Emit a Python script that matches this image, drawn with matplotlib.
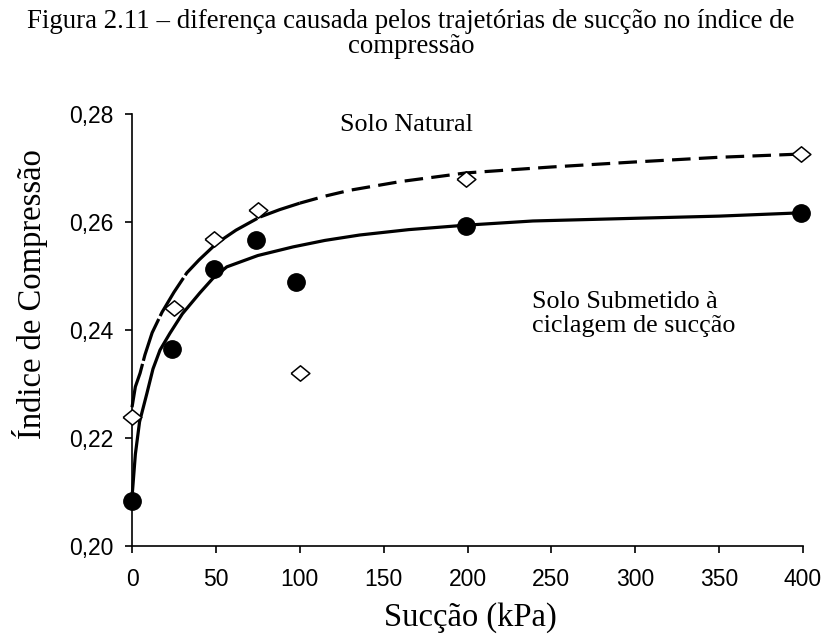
import matplotlib
matplotlib.use("Agg")
import matplotlib.pyplot as plt

# Ensaios de compressão: índice de compressão versus sucção aplicada
succao_natural = [0, 25, 49, 75, 100, 199, 399]
cc_natural = [0.2239, 0.2441, 0.2569, 0.2622, 0.2320, 0.2680, 0.2726]

succao_ciclado = [0, 24, 49, 74, 98, 199, 399]
cc_ciclado = [0.2083, 0.2365, 0.2513, 0.2567, 0.2489, 0.2593, 0.2617]

# Curvas de tendência traçadas sobre os ensaios
tend_natural_x = [0, 2, 4.8, 7.7, 12, 17.9, 25, 32.7, 40, 50.6, 62, 76, 88, 100,
                  115, 130, 160, 199, 250, 298, 350, 399]
tend_natural_y = [0.2257, 0.2295, 0.2320, 0.2354, 0.2395, 0.2433, 0.2470, 0.2506,
                  0.2530, 0.2561, 0.2585, 0.2609, 0.2623, 0.2635, 0.2648, 0.2659,
                  0.2675, 0.2691, 0.2702, 0.2711, 0.2720, 0.2726]
tend_ciclado_x = [0, 2, 4.5, 8.9, 12.5, 16.7, 22.6, 30, 40.5, 48, 56.5, 75, 96,
                  115, 135.7, 165, 198, 239, 300, 350, 398]
tend_ciclado_y = [0.2090, 0.2170, 0.2230, 0.2283, 0.2328, 0.2363, 0.2394, 0.2430,
                  0.2469, 0.2495, 0.2517, 0.2538, 0.2554, 0.2566, 0.2576, 0.2586,
                  0.2594, 0.2602, 0.2607, 0.2611, 0.2617]

serif = "Liberation Serif"
sans = "Liberation Sans"

fig = plt.figure(figsize=(8.22, 6.37), dpi=100)
ax = fig.add_axes([0.1606, 0.1429, 0.8163, 0.678])

# trecho inicial da curva natural quase contínuo, depois tracejado
corte = tend_natural_x.index(100) + 1
ax.plot(tend_natural_x[:corte], tend_natural_y[:corte], color="black", lw=2.3,
        dashes=(14, 1.0), solid_capstyle="butt", zorder=2)
ax.plot(tend_natural_x[corte - 1:], tend_natural_y[corte - 1:], color="black",
        lw=2.3, dashes=(5.8, 2.6), zorder=2)
ax.plot(tend_ciclado_x, tend_ciclado_y, color="black", lw=2.3, zorder=2)

losango = [(-1, 0), (0, 0.82), (1, 0), (0, -0.82), (-1, 0)]
ax.plot(succao_natural, cc_natural, linestyle="none", marker=losango,
        markersize=13.5, markerfacecolor="white", markeredgecolor="black",
        markeredgewidth=1.1, zorder=3)
ax.plot(succao_ciclado, cc_ciclado, linestyle="none", marker="o",
        markersize=12.5, markerfacecolor="black", markeredgecolor="black",
        zorder=3)

ax.set_xlim(0, 400)
ax.set_ylim(0.20, 0.28)
ax.set_xticks(range(0, 401, 50))
ax.set_yticks([0.20, 0.22, 0.24, 0.26, 0.28])
ax.set_yticklabels(["0,20", "0,22", "0,24", "0,26", "0,28"])
for lab in ax.get_xticklabels() + ax.get_yticklabels():
    lab.set_fontfamily(sans)
    lab.set_fontsize(16.5)
ax.tick_params(axis="both", direction="out", length=5, width=1.2)
ax.tick_params(axis="x", pad=11)
ax.tick_params(axis="y", pad=8.5)
for side in ("top", "right"):
    ax.spines[side].set_visible(False)
for side in ("left", "bottom"):
    ax.spines[side].set_linewidth(1.2)
for artist in ax.lines:
    artist.set_clip_on(False)

ax.set_xlabel("Sucção (kPa)", fontfamily=serif, fontsize=23.5)
ax.xaxis.set_label_coords(0.504, -0.165)
ax.xaxis.label.set_va("center")
ax.set_ylabel("Índice de Compressão", fontfamily=serif, fontsize=23.5)
ax.yaxis.set_label_coords(-0.152, 0.5835)
ax.yaxis.label.set_va("center")

ax.text(124, 0.278, "Solo Natural", fontfamily=serif, fontsize=18.8,
        ha="left", va="center")
ax.text(238.7, 0.2430, "Solo Submetido à\nciclagem de sucção", fontfamily=serif,
        fontsize=18.8, ha="left", va="center", linespacing=1.1)

fig.text(0.5, 0.946, "Figura 2.11 – diferença causada pelos trajetórias de sucção no índice de\ncompressão",
         fontfamily=serif, fontsize=19.4, ha="center", va="center", linespacing=1.0)

fig.savefig("out.png", dpi=100)
